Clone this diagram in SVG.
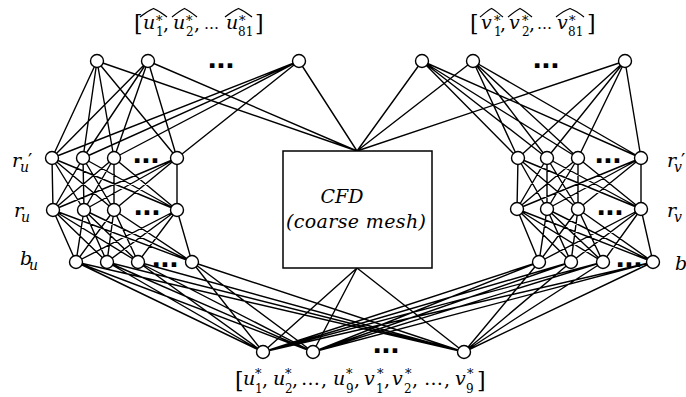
<svg xmlns="http://www.w3.org/2000/svg" width="686" height="397" viewBox="0 0 686 397">
<style>
.e{stroke:#000;stroke-width:1.4;fill:none;stroke-linecap:round}
.n{fill:#fff;stroke:#000;stroke-width:1.4}
.bx{fill:#fff;stroke:#000;stroke-width:1.5}
.t{font-family:"DejaVu Serif",serif;font-size:19px;fill:#000}
.m{font-family:"DejaVu Serif",serif;font-style:italic;font-size:19px;fill:#000}
.i{font-style:italic}
.br{font-size:22px}
.sb{font-size:12px}
.si{font-style:italic;font-size:14px}
.st{font-size:13px}
.el{font-size:15px}
.d{font-family:"Liberation Sans",sans-serif;font-weight:bold;font-size:32px;text-anchor:middle;fill:#000}
.h{stroke:#000;stroke-width:1.2;fill:none}
</style>
<g id="connectors">
<path class="e" d="M97 61L52 158M97 61L83 158M97 61L114 158M97 61L177 158M148 61L52 158M148 61L83 158M148 61L114 158M148 61L177 158M299 61L52 158M299 61L83 158M299 61L114 158M299 61L177 158"/>
<path class="e" d="M97 61L357 151M148 61L357 151M299 61L357 151M422 61L357 151M473 61L357 151M625 61L357 151"/>
<path class="e" d="M422 61L518 158M422 61L547 158M422 61L578 158M422 61L641 158M473 61L518 158M473 61L547 158M473 61L578 158M473 61L641 158M625 61L518 158M625 61L547 158M625 61L578 158M625 61L641 158"/>
<path class="e" d="M52 158L53 210M52 158L84 210M52 158L114 210M52 158L177 210M83 158L53 210M83 158L84 210M83 158L114 210M83 158L177 210M114 158L53 210M114 158L84 210M114 158L114 210M114 158L177 210M177 158L53 210M177 158L84 210M177 158L114 210M177 158L177 210"/>
<path class="e" d="M53 210L76 262M53 210L107 262M53 210L138 262M53 210L192 262M84 210L76 262M84 210L107 262M84 210L138 262M84 210L192 262M114 210L76 262M114 210L107 262M114 210L138 262M114 210L192 262M177 210L76 262M177 210L107 262M177 210L138 262M177 210L192 262"/>
<path class="e" d="M518 158L517 209M518 158L547 209M518 158L578 209M518 158L641 209M547 158L517 209M547 158L547 209M547 158L578 209M547 158L641 209M578 158L517 209M578 158L547 209M578 158L578 209M578 158L641 209M641 158L517 209M641 158L547 209M641 158L578 209M641 158L641 209"/>
<path class="e" d="M517 209L539 262M517 209L571 262M517 209L603 262M517 209L653 262M547 209L539 262M547 209L571 262M547 209L603 262M547 209L653 262M578 209L539 262M578 209L571 262M578 209L603 262M578 209L653 262M641 209L539 262M641 209L571 262M641 209L603 262M641 209L653 262"/>
<path class="e" d="M76 262L263 352M76 262L313 352M76 262L464 352M107 262L263 352M107 262L313 352M107 262L464 352M138 262L263 352M138 262L313 352M138 262L464 352M192 262L263 352M192 262L313 352M192 262L464 352"/>
<path class="e" d="M539 262L263 352M539 262L313 352M539 262L464 352M571 262L263 352M571 262L313 352M571 262L464 352M603 262L263 352M603 262L313 352M603 262L464 352M653 262L263 352M653 262L313 352M653 262L464 352"/>
<path class="e" d="M357 268L263 352M357 268L313 352M357 268L464 352"/>
</g>
<g id="cfd">
<rect class="bx" x="283" y="151" width="149" height="117"/>
<text class="m" x="342" y="203" text-anchor="middle" font-size="18">CFD</text>
<text class="m" x="356" y="228" text-anchor="middle" font-size="18" textLength="140" lengthAdjust="spacing">(coarse mesh)</text>
</g>
<g id="top-left">
<circle class="n" cx="97" cy="61" r="6.5"/>
<circle class="n" cx="148" cy="61" r="6.5"/>
<circle class="n" cx="299" cy="61" r="6.5"/>
<text class="d" x="221" y="68">...</text>
</g>
<g id="top-right">
<circle class="n" cx="422" cy="61" r="6.5"/>
<circle class="n" cx="473" cy="61" r="6.5"/>
<circle class="n" cx="625" cy="61" r="6.5"/>
<text class="d" x="546" y="68">...</text>
</g>
<g id="ru-prime">
<circle class="n" cx="52" cy="158" r="6.5"/>
<circle class="n" cx="83" cy="158" r="6.5"/>
<circle class="n" cx="114" cy="158" r="6.5"/>
<circle class="n" cx="177" cy="158" r="6.5"/>
<text class="d" x="146" y="163">...</text>
</g>
<g id="ru">
<circle class="n" cx="53" cy="210" r="6.5"/>
<circle class="n" cx="84" cy="210" r="6.5"/>
<circle class="n" cx="114" cy="210" r="6.5"/>
<circle class="n" cx="177" cy="210" r="6.5"/>
<text class="d" x="147" y="215">...</text>
</g>
<g id="bu">
<circle class="n" cx="76" cy="262" r="6.5"/>
<circle class="n" cx="107" cy="262" r="6.5"/>
<circle class="n" cx="138" cy="262" r="6.5"/>
<circle class="n" cx="192" cy="262" r="6.5"/>
<text class="d" x="165" y="267">...</text>
</g>
<g id="rv-prime">
<circle class="n" cx="518" cy="158" r="6.5"/>
<circle class="n" cx="547" cy="158" r="6.5"/>
<circle class="n" cx="578" cy="158" r="6.5"/>
<circle class="n" cx="641" cy="158" r="6.5"/>
<text class="d" x="608" y="163">...</text>
</g>
<g id="rv">
<circle class="n" cx="517" cy="209" r="6.5"/>
<circle class="n" cx="547" cy="209" r="6.5"/>
<circle class="n" cx="578" cy="209" r="6.5"/>
<circle class="n" cx="641" cy="209" r="6.5"/>
<text class="d" x="610" y="215">...</text>
</g>
<g id="bv">
<circle class="n" cx="539" cy="262" r="6.5"/>
<circle class="n" cx="571" cy="262" r="6.5"/>
<circle class="n" cx="603" cy="262" r="6.5"/>
<circle class="n" cx="653" cy="262" r="6.5"/>
<text class="d" x="629" y="267">...</text>
</g>
<g id="bottom">
<circle class="n" cx="263" cy="352" r="6.5"/>
<circle class="n" cx="313" cy="352" r="6.5"/>
<circle class="n" cx="464" cy="352" r="6.5"/>
<text class="d" x="386" y="353">...</text>
</g>
<g id="label-top-left">
<text class="t"><tspan class="br" x="134" y="31">[</tspan><tspan class="i" x="143" y="29">u</tspan><tspan class="st" x="156" y="25">*</tspan><tspan class="sb" x="156" y="36">1</tspan><tspan x="163" y="30">,</tspan><tspan class="i" x="173" y="29">u</tspan><tspan class="st" x="186" y="25">*</tspan><tspan class="sb" x="186" y="36">2</tspan><tspan x="194" y="30">,</tspan><tspan class="el" x="204" y="29">…</tspan><tspan class="i" x="226" y="29">u</tspan><tspan class="st" x="239" y="25">*</tspan><tspan class="sb" x="238" y="36">81</tspan><tspan class="br" x="255" y="31">]</tspan></text>
<path class="h" d="M140 17C145 13 150 10 153.5 8.5C157 10 162 13 167 17M172 17C177 13 181 10 184.5 8.5C188 10 192 13 197 17M225 17C230 13 235 10 238.5 8.5C242 10 247 13 252 17"/>
</g>
<g id="label-top-right">
<text class="t"><tspan class="br" x="470" y="31">[</tspan><tspan class="i" x="481" y="29">v</tspan><tspan class="st" x="494" y="25">*</tspan><tspan class="sb" x="494" y="36">1</tspan><tspan x="500" y="30">,</tspan><tspan class="i" x="509" y="29">v</tspan><tspan class="st" x="522" y="25">*</tspan><tspan class="sb" x="522" y="36">2</tspan><tspan x="529" y="30">,</tspan><tspan class="el" x="537" y="29">…</tspan><tspan class="i" x="557" y="29">v</tspan><tspan class="st" x="569" y="25">*</tspan><tspan class="sb" x="568" y="36">81</tspan><tspan class="br" x="587" y="31">]</tspan></text>
<path class="h" d="M480 17C485 13 488 10 491.5 8.5C495 10 498 13 503 17M508 17C513 13 517 10 520 8.5C523 10 527 13 532 17M556 17C561 13 566 10 570 8.5C574 10 579 13 584 17"/>
</g>
<g id="label-bottom">
<text class="t"><tspan class="br" x="235" y="388">[</tspan><tspan class="i" x="243" y="385">u</tspan><tspan class="st" x="255" y="378">*</tspan><tspan class="sb" x="255" y="393">1</tspan><tspan x="262" y="386">,</tspan><tspan class="i" x="273" y="385">u</tspan><tspan class="st" x="285" y="378">*</tspan><tspan class="sb" x="285" y="393">2</tspan><tspan x="292" y="386">,</tspan><tspan x="301" y="385">…</tspan><tspan x="321" y="386">,</tspan><tspan class="i" x="333" y="385">u</tspan><tspan class="st" x="346" y="378">*</tspan><tspan class="sb" x="346" y="393">9</tspan><tspan x="354" y="386">,</tspan><tspan class="i" x="364" y="385">v</tspan><tspan class="st" x="377" y="378">*</tspan><tspan class="sb" x="376" y="393">1</tspan><tspan x="384" y="386">,</tspan><tspan class="i" x="392" y="385">v</tspan><tspan class="st" x="405" y="378">*</tspan><tspan class="sb" x="404" y="393">2</tspan><tspan x="412" y="386">,</tspan><tspan x="424" y="385">…</tspan><tspan x="444" y="386">,</tspan><tspan class="i" x="455" y="385">v</tspan><tspan class="st" x="467" y="378">*</tspan><tspan class="sb" x="466" y="393">9</tspan><tspan class="br" x="477" y="388">]</tspan></text>
</g>
<g id="row-labels">
<text class="t"><tspan class="i" x="12" y="167">r</tspan><tspan class="si" x="20" y="172">u</tspan><tspan x="28" y="167">′</tspan></text>
<text class="t"><tspan class="i" x="14" y="217">r</tspan><tspan class="si" x="21" y="222">u</tspan></text>
<text class="t"><tspan class="i" x="20" y="265">b</tspan><tspan class="si" x="29" y="270">u</tspan></text>
<text class="t"><tspan class="i" x="667" y="167">r</tspan><tspan class="si" x="674" y="172">v</tspan><tspan x="681" y="167">′</tspan></text>
<text class="t"><tspan class="i" x="667" y="217">r</tspan><tspan class="si" x="674" y="222">v</tspan></text>
<text class="t"><tspan class="i" x="675" y="270">b</tspan></text>
</g>
</svg>
